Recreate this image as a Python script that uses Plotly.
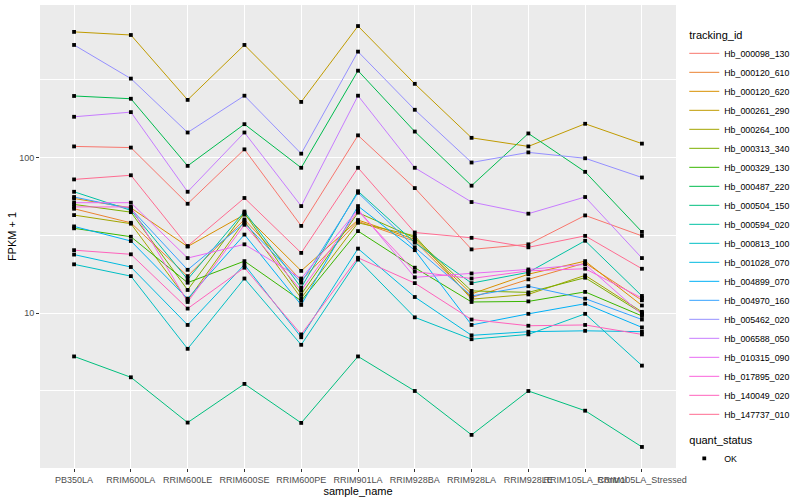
import math
import plotly.graph_objects as go

samples = ["PB350LA", "RRIM600LA", "RRIM600LE", "RRIM600SE", "RRIM600PE", "RRIM901LA",
           "RRIM928BA", "RRIM928LA", "RRIM928LE", "RRIM105LA_Control", "RRIM105LA_Stressed"]

tracking_ids = ["Hb_000098_130", "Hb_000120_610", "Hb_000120_620", "Hb_000261_290", "Hb_000264_100",
                "Hb_000313_340", "Hb_000329_130", "Hb_000487_220", "Hb_000504_150", "Hb_000594_020",
                "Hb_000813_100", "Hb_001028_070", "Hb_004899_070", "Hb_004970_160", "Hb_005462_020",
                "Hb_006588_050", "Hb_010315_090", "Hb_017895_020", "Hb_140049_020", "Hb_147737_010"]

colors = ["#F8766D", "#EA8331", "#D89000", "#C09B00", "#A3A500", "#7CAE00", "#39B600", "#00BB4E",
          "#00BF7D", "#00C1A3", "#00BFC4", "#00BAE0", "#00B0F6", "#35A2FF", "#9590FF", "#C77CFF",
          "#E76BF3", "#FA62DB", "#FF62BC", "#FF6C91"]

# FPKM + 1 values, one list per tracking_id, in the order of `samples`
Hb_000098_130 = [118, 116, 50.5, 113, 36.4, 139, 63.7, 25.7, 27.7, 42.5, 31.4]
Hb_000120_610 = [46.9, 38.1, 17.3, 40, 16.2, 38.9, 29, 12.6, 16.5, 21, 12.1]
Hb_000120_620 = [54.6, 47.5, 26.8, 43, 18.7, 39.7, 29.8, 13.3, 17.8, 21.6, 11.2]
Hb_000261_290 = [643, 614, 235, 530, 228, 701, 298, 134, 118, 165, 123]
Hb_000264_100 = [42.7, 37.6, 12.1, 39, 12.5, 38.1, 31.4, 12.3, 13.2, 17.5, 10.2]
Hb_000313_340 = [50, 44.6, 14.1, 44, 13.2, 44.3, 30.5, 13.9, 13.6, 16.9, 10.0]
Hb_000329_130 = [35.1, 31.0, 15.7, 21.6, 12.0, 33.7, 19.6, 11.8, 11.9, 13.7, 9.6]
Hb_000487_220 = [249, 239, 88.5, 164, 86, 362, 147, 66, 143, 81, 33.3]
Hb_000504_150 = [5.27, 3.87, 1.98, 3.51, 1.97, 5.27, 3.16, 1.65, 3.16, 2.36, 1.38]
Hb_000594_020 = [60.3, 45.8, 16.5, 45, 14.6, 60.8, 28.4, 15.6, 18.3, 29.2, 12.9]
Hb_000813_100 = [20.6, 17.3, 5.9, 16.7, 6.26, 22.1, 9.4, 6.8, 7.3, 9.9, 4.6]
Hb_001028_070 = [23.8, 19.8, 8.4, 20.5, 7.0, 26, 12.7, 7.2, 7.6, 7.7, 7.6]
Hb_004899_070 = [36.1, 29.1, 12.4, 32, 11.3, 48.8, 25.4, 8.4, 9.9, 11.5, 8.1]
Hb_004970_160 = [55.8, 46.9, 19, 38, 15.7, 59.4, 26.5, 12.9, 14.9, 12.4, 9.1]
Hb_005462_020 = [530, 322, 145, 250, 106, 480, 203, 93, 108, 99, 74.5]
Hb_006588_050 = [183, 196, 60.3, 145, 48.8, 250, 86, 51.8, 43.6, 55.8, 22.6]
Hb_010315_090 = [51.3, 51.3, 22.6, 27.7, 16.7, 46.5, 17, 18, 19.1, 20.6, 9.8]
Hb_017895_020 = [48.2, 48.2, 11.8, 37, 14.0, 45.4, 18.5, 16.7, 18.7, 19.3, 12.5]
Hb_140049_020 = [25.4, 23.9, 10.7, 19.6, 7.3, 22.7, 15.6, 9.1, 8.3, 8.4, 7.3]
Hb_147737_010 = [72.4, 77, 27, 55, 24.4, 86, 33, 30.5, 26.5, 31.4, 19.3]

series = [Hb_000098_130, Hb_000120_610, Hb_000120_620, Hb_000261_290, Hb_000264_100,
          Hb_000313_340, Hb_000329_130, Hb_000487_220, Hb_000504_150, Hb_000594_020,
          Hb_000813_100, Hb_001028_070, Hb_004899_070, Hb_004970_160, Hb_005462_020,
          Hb_006588_050, Hb_010315_090, Hb_017895_020, Hb_140049_020, Hb_147737_010]

y_tick_values = [10, 100]
y_tick_labels = ["10", "100"]
y_minor_values = [10 ** 0.5, 10 ** 1.5, 10 ** 2.5]

FONT = "Liberation Sans"

fig = go.Figure()
for i, (tid, vals, col) in enumerate(zip(tracking_ids, series, colors)):
    fig.add_trace(go.Scatter(
        x=samples, y=vals, mode="lines", name=tid,
        line=dict(color=col, width=1),
        legendgroup="tracking_id",
        legendgrouptitle=dict(text="tracking_id", font=dict(size=11, color="black")) if i == 0 else None,
    ))

all_x = [s for vals in series for s in samples]
all_y = [v for vals in series for v in vals]
fig.add_trace(go.Scatter(
    x=all_x, y=all_y, mode="markers", name="OK",
    marker=dict(symbol="square", size=3.8, color="black"),
    legendgroup="quant_status",
    legendgrouptitle=dict(text="quant_status", font=dict(size=11, color="black")),
))

lo = math.log10(min(all_y))
hi = math.log10(max(all_y))
pad = (hi - lo) * 0.05

fig.update_layout(
    width=800, height=500,
    margin=dict(l=40, r=117, t=5, b=32),
    paper_bgcolor="white",
    plot_bgcolor="#EBEBEB",
    font=dict(family=FONT, size=9, color="black"),
    legend=dict(
        x=1.013, xanchor="left", y=0.968, yanchor="top",
        font=dict(size=8.8, color="black"),
        itemwidth=30, tracegroupgap=6,
        bgcolor="rgba(255,255,255,0)",
    ),
    xaxis=dict(
        type="category", categoryorder="array", categoryarray=samples,
        range=[-0.6, len(samples) - 0.4],
        showgrid=True, gridcolor="white", gridwidth=1.1,
        ticks="outside", ticklen=3, tickcolor="#333333", tickwidth=1,
        tickangle=0,
        tickfont=dict(size=9, color="#4D4D4D", family=FONT),
        title=dict(text="sample_name", font=dict(size=11, color="black"), standoff=2),
        zeroline=False, showline=False, automargin=False,
    ),
    yaxis=dict(
        type="log", range=[lo - pad, hi + pad],
        tickvals=y_tick_values, ticktext=y_tick_labels,
        showgrid=True, gridcolor="white", gridwidth=1.1,
        minor=dict(tickvals=y_minor_values, showgrid=True, gridcolor="white", gridwidth=0.55, ticks=""),
        ticks="outside", ticklen=3, tickcolor="#333333", tickwidth=1,
        tickfont=dict(size=9, color="#4D4D4D", family=FONT),
        title=dict(text="FPKM + 1", font=dict(size=11, color="black"), standoff=0),
        zeroline=False, showline=False, automargin=False,
    ),
)

fig.write_html("out.html", config={"displayModeBar": False},
               post_script="document.body.style.margin='0';document.body.style.padding='0';")
